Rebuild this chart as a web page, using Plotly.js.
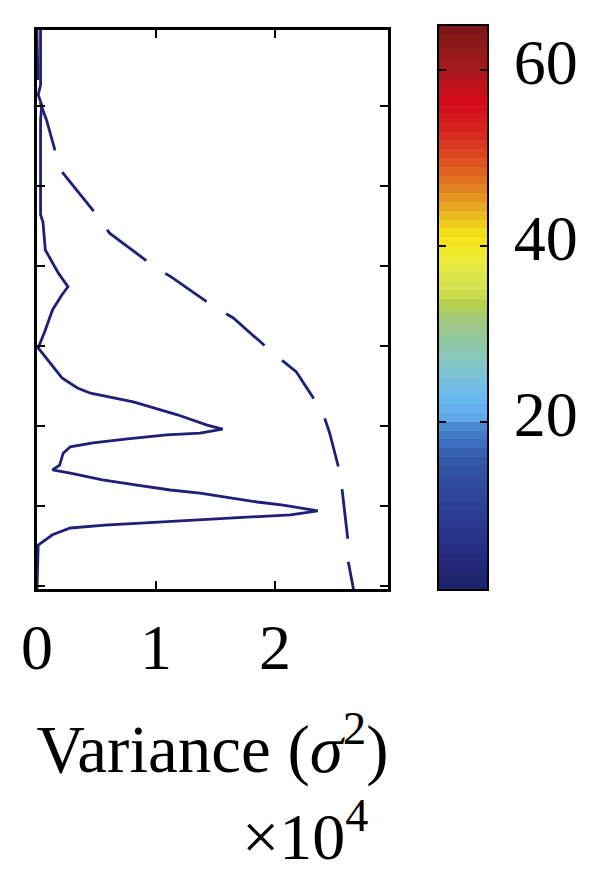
<!DOCTYPE html>
<html>
<head>
<meta charset="utf-8">
<script src="https://cdn.plot.ly/plotly-3.0.1.min.js"></script>
<style>html,body{margin:0;padding:0;background:#fff;}#chart{width:600px;height:879px;}</style>
</head>
<body>
<div id="chart"></div>
<script>
// Solid profile (variance ×10^4 vs. row position)
const solidY = [69.5, 62.6, 61.4, 60.1, 58.25, 46.4, 45.5, 42.0, 39.1, 37.4, 36.4, 34.5, 32.0, 29.75, 27.9, 26.0, 24.75, 24.1, 23.0, 21.4, 20.1, 19.6, 19.1, 18.9, 18.4, 17.9, 17.4, 16.6, 15.1, 14.5, 14.1, 13.25, 12.6, 12.0, 11.6, 11.0, 10.5, 10.1, 9.4, 8.9, 8.5, 8.0, 7.6, 7.25, 6.4, 5.1, -0.4];
const solidX = [0.03, 0.03, 0.01, 0.04, 0.03, 0.03, 0.05, 0.07, 0.18, 0.26, 0.21, 0.13, 0.07, 0.01, 0.11, 0.21, 0.34, 0.45, 0.81, 1.18, 1.43, 1.56, 1.37, 1.09, 0.76, 0.47, 0.28, 0.22, 0.19, 0.13, 0.28, 0.55, 0.84, 1.12, 1.37, 1.62, 1.85, 2.07, 2.36, 2.13, 1.62, 1.09, 0.57, 0.28, 0.13, 0.01, 0.0];
// Dashed envelope
const dashY = [69.5, 61.4, 60.5, 59.5, 58.25, 54.5, 51.75, 46.6, 44.1, 40.1, 38.6, 35.1, 33.5, 28.9, 26.75, 21.75, 19.1, 13.9, 11.1, 6.1, 3.5, -0.4];
const dashX = [0.0, 0.01, 0.025, 0.05, 0.08, 0.15, 0.21, 0.49, 0.61, 0.97, 1.13, 1.47, 1.65, 2.0, 2.18, 2.40, 2.46, 2.55, 2.57, 2.61, 2.61, 2.66];
// Axis ticks
const xTickVals = [0, 1, 2];
const xTickText = ['0', '1', '2'];
const yTickVals = [0, 10, 20, 30, 40, 50, 60];
// Colour bar
const cbTickVals = [20, 40, 60];
const cbTickText = ['20', '40', '60'];
const cbLevels = [1.5, 2.5, 3.5, 4.5, 5.5, 6.5, 7.5, 8.5, 9.5, 10.5, 11.5, 12.5, 13.5, 14.5, 15.5, 16.5, 17.5, 18.5, 19.5, 20.5, 21.5, 22.5, 23.5, 24.5, 25.5, 26.5, 27.5, 28.5, 29.5, 30.5, 31.5, 32.5, 33.5, 34.5, 35.5, 36.5, 37.5, 38.5, 39.5, 40.5, 41.5, 42.5, 43.5, 44.5, 45.5, 46.5, 47.5, 48.5, 49.5, 50.5, 51.5, 52.5, 53.5, 54.5, 55.5, 56.5, 57.5, 58.5, 59.5, 60.5, 61.5, 62.5, 63.5, 64.5];

const cscale = [
  [0.0, '#1c2068'], [0.078, '#272f86'], [0.156, '#2d4398'], [0.23, '#3358a8'],
  [0.26, '#3c70c0'], [0.289, '#4a88d0'], [0.30, '#60a8e8'], [0.336, '#68b8f0'],
  [0.37, '#78c0e0'], [0.406, '#88c8c0'], [0.44, '#90c8a0'], [0.475, '#a0c880'],
  [0.51, '#b8d048'], [0.53, '#d0e050'], [0.578, '#e8ec40'], [0.61, '#f4e820'],
  [0.64, '#f0d818'], [0.672, '#e8b020'], [0.719, '#e07a20'], [0.75, '#e05a1e'],
  [0.797, '#d83020'], [0.866, '#d40a1a'], [0.92, '#a81a1c'], [1.0, '#7a1818']
];

const lineColor = '#1f1f78';
const serif = 'Liberation Serif, Times New Roman, serif';

const traces = [
  {x: solidX, y: solidY, type: 'scatter', mode: 'lines', xaxis: 'x', yaxis: 'y',
   line: {color: lineColor, width: 2.8}, showlegend: false, hoverinfo: 'skip'},
  {x: dashX, y: dashY, type: 'scatter', mode: 'lines', xaxis: 'x', yaxis: 'y',
   line: {color: lineColor, width: 2.8, dash: '50px,23px'}, showlegend: false, hoverinfo: 'skip'},
  {type: 'heatmap', x: [0.5], y: cbLevels, z: cbLevels.map(v => [v]),
   xaxis: 'x2', yaxis: 'y2', colorscale: cscale, zmin: 1, zmax: 65,
   showscale: false, hoverinfo: 'skip'}
];

const layout = {
  width: 600, height: 879,
  margin: {l: 37, r: 113, t: 26, b: 290, pad: 0},
  paper_bgcolor: '#ffffff', plot_bgcolor: '#ffffff',
  font: {family: serif, color: '#000', size: 64},
  showlegend: false,
  xaxis: {
    domain: [0, 0.78], range: [0, 2.95], anchor: 'y',
    tickvals: xTickVals, ticktext: xTickText,
    ticks: 'inside', ticklen: 8, tickwidth: 2, tickcolor: '#000',
    showline: true, linewidth: 3, linecolor: '#000', mirror: 'ticks',
    showgrid: false, zeroline: false,
    tickfont: {family: serif, size: 64, color: '#000'},
    ticklabelstandoff: 0,
    title: {text: 'Variance (<i>σ</i><sup>2</sup>)', font: {family: serif, size: 67, color: '#000'}, standoff: 44}
  },
  yaxis: {
    domain: [0, 0.993], range: [-0.375, 69.5], anchor: 'x',
    tickvals: yTickVals, showticklabels: false,
    ticks: 'inside', ticklen: 8, tickwidth: 2, tickcolor: '#000',
    showline: true, linewidth: 3, linecolor: '#000', mirror: 'ticks',
    showgrid: false, zeroline: false
  },
  xaxis2: {
    domain: [0.8933, 1], range: [0, 1], anchor: 'y2',
    showticklabels: false, ticks: '', showline: true, linewidth: 2, linecolor: '#000',
    mirror: true, showgrid: false, zeroline: false
  },
  yaxis2: {
    domain: [0, 1], range: [1, 65], anchor: 'x2', side: 'right',
    tickvals: cbTickVals, ticktext: cbTickText,
    ticks: 'inside', ticklen: 7, tickwidth: 2, tickcolor: '#000',
    showline: true, linewidth: 2, linecolor: '#000', mirror: 'ticks',
    showgrid: false, zeroline: false,
    tickfont: {family: serif, size: 64, color: '#000'},
    ticklabelstandoff: 12, ticklabelshift: -8
  },
  annotations: [
    {text: '×10<sup>4</sup>', xref: 'paper', yref: 'paper', x: 0.5965, y: -0.431,
     xanchor: 'center', yanchor: 'middle', showarrow: false,
     font: {family: serif, size: 66, color: '#000'}}
  ]
};

Plotly.newPlot('chart', traces, layout, {displayModeBar: false, staticPlot: true});
</script>
</body>
</html>
